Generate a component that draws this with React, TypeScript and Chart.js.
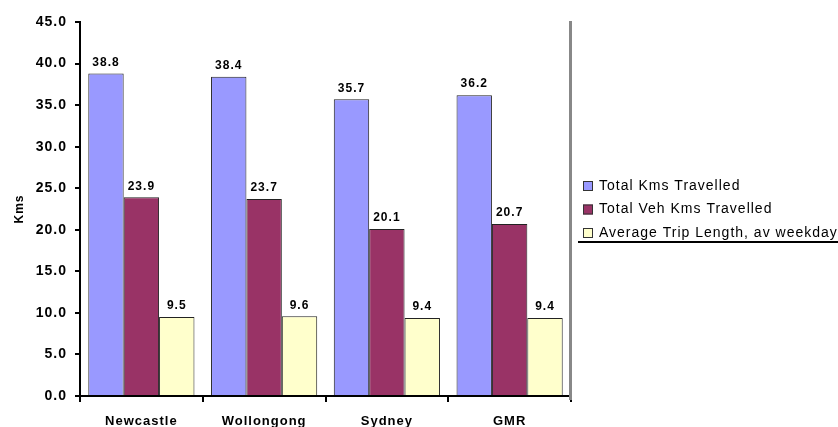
import React, { useEffect, useRef } from "react";
import { Chart, registerables } from "chart.js";

Chart.register(...registerables);

const categories = ["Newcastle", "Wollongong", "Sydney", "GMR"];
const seriesNames = ["Total Kms Travelled", "Total Veh Kms Travelled", "Average Trip Length, av weekday"];
const totalKms = [38.8, 38.4, 35.7, 36.2];
const totalVehKms = [23.9, 23.7, 20.1, 20.7];
const avgTripLength = [9.5, 9.6, 9.4, 9.4];
const seriesColors = ["#9999FF", "#993366", "#FFFFCC"];
const yTitle = "Kms";

const FONT = "'Liberation Sans', Arial, sans-serif";

const spacingPlugin = {
  id: "spacing",
  beforeLayout(chart: any) {
    chart.ctx.letterSpacing = "1px";
  },
  beforeDraw(chart: any) {
    chart.ctx.letterSpacing = "1px";
  },
};

const decorPlugin = {
  id: "decor",
  afterDatasetsDraw(chart: any) {
    const ctx = chart.ctx;
    const area = chart.chartArea;
    ctx.save();
    // value labels
    ctx.font = `bold 12px ${FONT}`;
    ctx.fillStyle = "#000";
    ctx.textAlign = "center";
    ctx.textBaseline = "bottom";
    chart.data.datasets.forEach((ds: any, i: number) => {
      const meta = chart.getDatasetMeta(i);
      meta.data.forEach((el: any, j: number) => {
        ctx.fillText(Number(ds.data[j]).toFixed(1), el.x, el.y - 5);
      });
    });
    // right gray border
    ctx.fillStyle = "#888888";
    ctx.fillRect(area.right - 2, area.top - 1, 3, area.bottom - area.top + 5);
    // legend
    ctx.font = `14px ${FONT}`;
    ctx.textAlign = "left";
    ctx.textBaseline = "middle";
    const lx = 583;
    const ly = [186, 209.5, 233];
    chart.data.datasets.forEach((ds: any, i: number) => {
      ctx.fillStyle = ds.backgroundColor;
      ctx.fillRect(lx, ly[i] - 5, 10, 10);
      ctx.strokeStyle = "#333";
      ctx.lineWidth = 1;
      ctx.strokeRect(lx + 0.5, ly[i] - 4.5, 9, 9);
      ctx.fillStyle = "#000";
      ctx.fillText(ds.label, lx + 16, ly[i]);
    });
    ctx.fillStyle = "#000";
    ctx.fillRect(578, 241, 260, 2);
    ctx.restore();
  },
};

export default function App() {
  const ref = useRef<HTMLCanvasElement>(null);
  useEffect(() => {
    if (!ref.current) return;
    const values = [totalKms, totalVehKms, avgTripLength];
    const chart = new Chart(ref.current, {
      type: "bar",
      data: {
        labels: categories,
        datasets: values.map((v, i) => ({
          label: seriesNames[i],
          data: v,
          backgroundColor: seriesColors[i],
          borderColor: "#222",
          borderWidth: 1,
          barPercentage: 1,
          categoryPercentage: 0.865,
        })),
      },
      options: {
        animation: false,
        responsive: false,
        devicePixelRatio: 1,
        layout: { padding: { top: 22, right: 267, bottom: 0, left: 0 } },
        plugins: { legend: { display: false }, tooltip: { enabled: false } },
        scales: {
          x: {
            offset: true,
            grid: { offset: true, drawOnChartArea: false, tickLength: 6, color: "#000", lineWidth: 2 },
            border: { color: "#000", width: 2 },
            ticks: { color: "#000", font: { family: FONT, weight: "bold", size: 13 }, padding: 12 },
            afterFit(scale: any) {
              scale.height = 31;
            },
          },
          y: {
            min: 0,
            max: 45,
            grid: { drawOnChartArea: false, tickLength: 5, color: "#000", lineWidth: 2 },
            border: { color: "#000", width: 2 },
            ticks: {
              stepSize: 5,
              color: "#000",
              font: { family: FONT, weight: "bold", size: 14 },
              padding: 8,
              callback: (v: any) => Number(v).toFixed(1),
            },
            title: {
              display: true,
              text: yTitle,
              color: "#000",
              font: { family: FONT, weight: "bold", size: 12 },
              padding: { top: 12, bottom: 0 },
            },
            afterFit(scale: any) {
              scale.width = 80;
            },
          },
        },
      },
      plugins: [spacingPlugin, decorPlugin],
    } as any);
    return () => chart.destroy();
  }, []);
  return (
    <div style={{ position: "fixed", left: 0, top: 0, width: 838, height: 427, background: "#fff" }}>
      <canvas ref={ref} width={838} height={427} style={{ width: 838, height: 427 }} />
    </div>
  );
}
